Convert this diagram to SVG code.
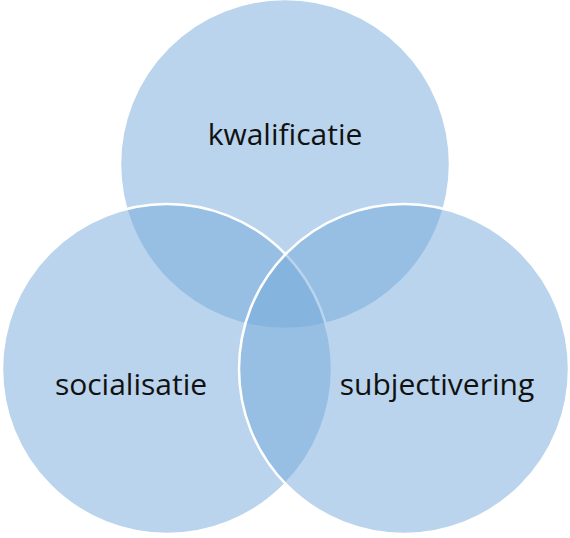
<svg xmlns="http://www.w3.org/2000/svg" width="570" height="538" viewBox="0 0 570 538">
<style>
.c{fill:#74a9da;fill-opacity:0.5;stroke:#ffffff;stroke-width:2.5}
.t{font-family:"Open Sans","Liberation Sans",sans-serif;font-size:30px;fill:#111111;text-anchor:middle}
</style>
<rect width="570" height="538" fill="#ffffff"/>
<g id="kwalificatie">
<circle class="c" cx="285" cy="164" r="165"/>
<text class="t" x="285" y="145">kwalificatie</text>
</g>
<g id="socialisatie">
<circle class="c" cx="167" cy="369" r="165"/>
<text class="t" x="131" y="395">socialisatie</text>
</g>
<g id="subjectivering">
<circle class="c" cx="404" cy="369" r="165"/>
<text class="t" x="437" y="395">subjectivering</text>
</g>
<g id="connectors"/>
</svg>
